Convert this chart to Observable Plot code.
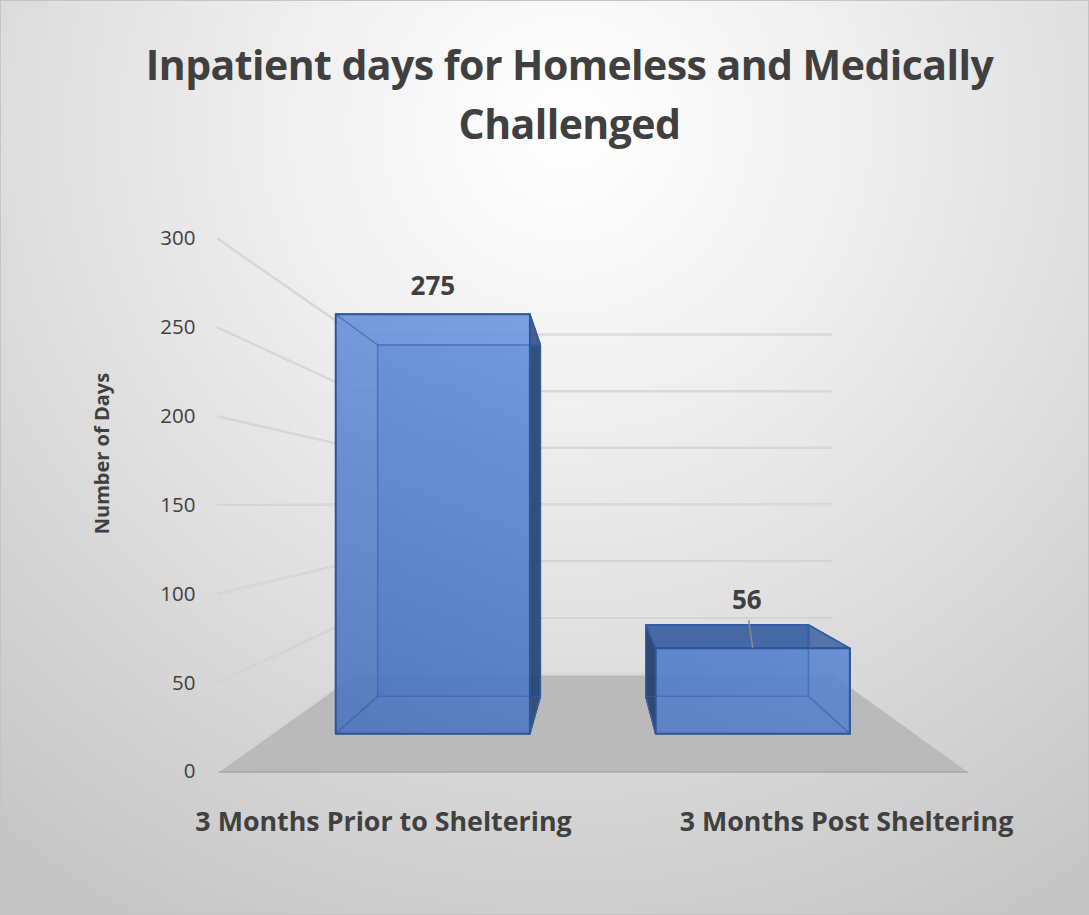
<!DOCTYPE html>
<html><head><meta charset="utf-8">
<script src="https://cdn.jsdelivr.net/npm/d3@7"></script>
<script src="https://cdn.jsdelivr.net/npm/@observablehq/plot@0.6"></script>
<style>
html,body{margin:0;padding:0}
body{width:1089px;height:915px;overflow:hidden;font-family:"Open Sans",sans-serif;
background:radial-gradient(circle 900px at 52% 14%,#ffffff 0%,#f3f3f3 25%,#dedede 60%,#c6c6c6 100%);
box-sizing:border-box;border:1px solid #c4c4c4}
#title{position:absolute;left:0;top:0;width:1139px;height:190px;text-align:center;color:#404040;
font:700 41px/59px "Open Sans",sans-serif;letter-spacing:-0.55px;padding-top:35px;box-sizing:border-box}
#chart{position:absolute;left:0;top:190px}
svg{background:transparent!important;display:block}
</style></head><body>
<div id="title">Inpatient days for Homeless and Medically<br>Challenged</div>
<div id="chart"></div>
<script>
const categories = ["3 Months Prior to Sheltering", "3 Months Post Sheltering"];
const values = [275, 56];
const yTicks = [0, 50, 100, 150, 200, 250, 300];
const yLabel = "Number of Days";

// perspective layout of the 3D chart (front of floor is depth 0, back wall depth 1)
const W = 1089, H = 725, floorX = [219, 967], vanishX = 594, vanishV = 150.8, k = 0.568;
const barDepth = [0.293, 0.69], pxPerValue = 534 / 300;
const band = d3.scaleBand(categories, [219, 965]).paddingInner(0.393).paddingOuter(0.196);
const ratio = d => 1 / (1 + k * d);
const P = (x, v, d) => ({x: vanishX + (x - vanishX) * ratio(d), y: vanishV + (v - vanishV) * ratio(d)});
const poly = (pts, o) => Plot.line(pts, {x: "x", y: "y", curve: "linear-closed", ...o});

const floor = [P(floorX[0], 0, 0), P(floorX[1], 0, 0), P(floorX[1], 0, 1), P(floorX[0], 0, 1)];
const floorFront = [P(floorX[0], 0, 0), P(floorX[1], 0, 0)];

const grid = yTicks.flatMap(t => {
  const a = P(floorX[0], t, 0), b = P(floorX[0], t, 1), c = P(floorX[1], t, 1);
  return [{x1: a.x - 2.5, y1: a.y, x2: b.x, y2: b.y}, {x1: b.x, y1: b.y, x2: c.x, y2: c.y}];
});

const EDGE = "#2f5597", INNER = "#3a67b5", FACE = "#4472c4";
const barMarks = categories.flatMap((c, i) => {
  const v = values[i], x0 = band(c), x1 = x0 + band.bandwidth();
  const [d0, d1] = barDepth;
  const A = P;
  const back = [A(x0,0,d1),A(x1,0,d1),A(x1,v,d1),A(x0,v,d1)];
  const front = [A(x0,0,d0),A(x1,0,d0),A(x1,v,d0),A(x0,v,d0)];
  const left = [A(x0,0,d0),A(x0,0,d1),A(x0,v,d1),A(x0,v,d0)];
  const right = [A(x1,0,d0),A(x1,0,d1),A(x1,v,d1),A(x1,v,d0)];
  const top = [A(x0,v,d0),A(x1,v,d0),A(x1,v,d1),A(x0,v,d1)];
  const bottom = [A(x0,0,d0),A(x1,0,d0),A(x1,0,d1),A(x0,0,d1)];
  const leftDark = x0 > vanishX, rightDark = x1 < vanishX, topDark = v < vanishV;
  const s = {stroke: EDGE, strokeWidth: 1.4};
  const inner = {x: "x", y: "y", stroke: INNER, strokeWidth: 1.4, strokeOpacity: 0.55};
  return [
    poly(back, {fill: FACE, fillOpacity: 0.55, ...s}),
    poly(bottom, {fill: FACE, fillOpacity: 0.25, ...s}),
    poly(left, {fill: leftDark ? "#1f3864" : FACE, fillOpacity: leftDark ? 0.85 : 0.15, ...s}),
    poly(right, {fill: rightDark ? "#1f3864" : FACE, fillOpacity: rightDark ? 0.8 : 0.15, ...s}),
    poly(top, {fill: topDark ? "#2f5597" : FACE, fillOpacity: topDark ? 0.75 : 0.1, ...s}),
    poly(front, {fill: "url(#frontGrad)", fillOpacity: 0.88}),
    Plot.line([A(x0,v,d0),A(x0,v,d1),A(x1,v,d1),A(x1,v,d0)], inner),
    Plot.line([A(x0,0,d0),A(x0,0,d1),A(x1,0,d1),A(x1,0,d0)], inner),
    Plot.line([A(x0,v,d1),A(x0,0,d1)], inner),
    Plot.line([A(x1,v,d1),A(x1,0,d1)], inner),
    poly(front, {fill: "none", stroke: EDGE, strokeWidth: 2})
  ];
});

const labelPts = categories.map((c, i) => {
  const p = P(band(c) + band.bandwidth() / 2, values[i], barDepth[0]);
  return {...p, text: String(values[i])};
});

const defs = () => {
  const d = d3.create("svg:defs");
  const g = d.append("linearGradient").attr("id", "frontGrad").attr("gradientUnits", "userSpaceOnUse")
    .attr("x1", 350).attr("y1", 560).attr("x2", 540).attr("y2", 120);
  g.append("stop").attr("offset", 0).attr("stop-color", "#4a72bb");
  g.append("stop").attr("offset", 1).attr("stop-color", "#6c97e0");
  return d.node();
};

const txt = {fontFamily: "'Open Sans',sans-serif", fill: "#404040"};
const plot = Plot.plot({
  width: W, height: H, margin: 0,
  x: {domain: [0, W], range: [0, W], axis: null},
  y: {domain: [0, 300], range: [581.4, 47.8], axis: null},
  style: {background: "transparent", overflow: "visible"},
  marks: [
    defs,
    poly(floor, {fill: "#bababa"}),
    Plot.link(grid, {x1: "x1", y1: "y1", x2: "x2", y2: "y2", stroke: "#c8c8c8", strokeWidth: 2, strokeOpacity: 0.9}),
    Plot.link(grid, {x1: "x1", y1: "y1", x2: "x2", y2: "y2", stroke: "#e6e6e6", strokeWidth: 0.7}),
    Plot.line(floorFront, {x: "x", y: "y", stroke: "#a6a6a6", strokeWidth: 1.5}),
    ...barMarks,
    Plot.link([labelPts[1]], {x1: "x", y1: "y", x2: d => d.x - 4, y2: d => d.y + 28 / pxPerValue, stroke: "#8a8a8a", strokeWidth: 1.5}),
    Plot.text([labelPts[0]], {x: "x", y: "y", text: "text", dy: -28, fontSize: 26, fontWeight: 700, ...txt}),
    Plot.text([labelPts[1]], {x: d => d.x - 6, y: "y", text: "text", dy: -48, fontSize: 26, fontWeight: 700, ...txt}),
    Plot.text(yTicks, {x: floorX[0], y: d => d, text: d => String(d), textAnchor: "end", dx: -24, fontSize: 20.5, ...txt}),
    Plot.text([yLabel], {x: 102, y: 179, text: d => d, rotate: -90, fontSize: 20, fontWeight: 700, ...txt}),
    Plot.text(categories, {x: [383, 846], y: [0, 0], text: d => d, dy: 50.5, fontSize: 26.8, fontWeight: 700, ...txt})
  ]
});
document.getElementById("chart").append(plot);
</script>
</body></html>
